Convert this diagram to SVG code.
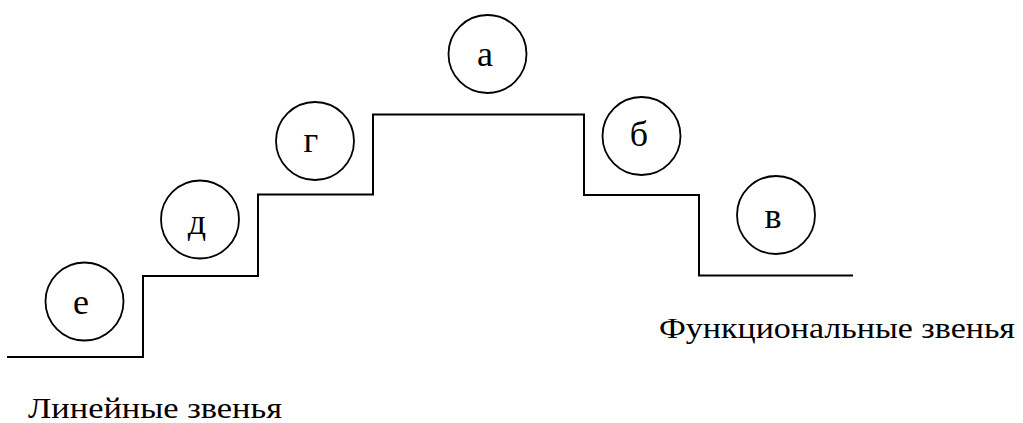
<svg xmlns="http://www.w3.org/2000/svg" width="1023" height="423" viewBox="0 0 1023 423">
  <style>
    .step { fill: none; stroke: #000; stroke-width: 2; }
    .node circle { fill: #fff; stroke: #000; stroke-width: 1.8; }
    .node text { font-family: "Liberation Serif", "Times New Roman", serif; font-size: 36px; text-anchor: middle; fill: #000; }
    .caption { font-family: "Liberation Serif", "Times New Roman", serif; font-size: 30px; fill: #000; }
  </style>
  <rect width="1023" height="423" fill="#fff"/>

  <!-- staircase profile -->
  <g id="connectors">
    <path class="step" d="M7,357 H143 V276 H258 V194.5 H373 V114.5 H584 V195 H699 V275.5 H853"/>
  </g>

  <g id="node-e" class="node">
    <circle cx="84.5" cy="301.5" r="39"/>
    <text x="81" y="314">е</text>
  </g>
  <g id="node-d" class="node">
    <circle cx="200" cy="219.5" r="39"/>
    <text x="197" y="234">д</text>
  </g>
  <g id="node-g" class="node">
    <circle cx="315" cy="141" r="39"/>
    <text x="311" y="152">г</text>
  </g>
  <g id="node-a" class="node">
    <circle cx="487.5" cy="54" r="39"/>
    <text x="485" y="66">а</text>
  </g>
  <g id="node-b" class="node">
    <circle cx="641.5" cy="136" r="39"/>
    <text x="639" y="146">б</text>
  </g>
  <g id="node-v" class="node">
    <circle cx="776" cy="215" r="39"/>
    <text x="773" y="228">в</text>
  </g>

  <text class="caption" x="659" y="338" textLength="356" lengthAdjust="spacingAndGlyphs">Функциональные звенья</text>
  <text class="caption" x="28" y="418" textLength="254" lengthAdjust="spacingAndGlyphs">Линейные звенья</text>
</svg>
